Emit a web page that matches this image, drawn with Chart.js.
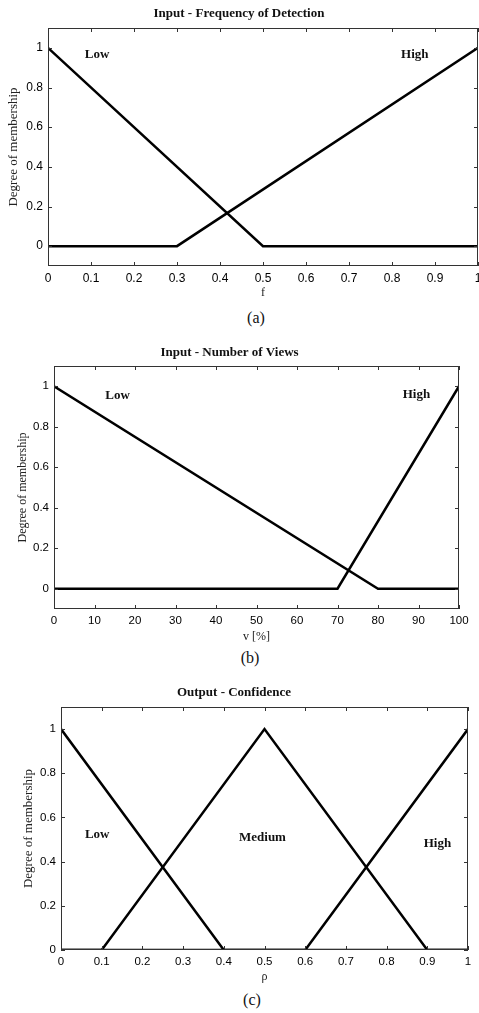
<!DOCTYPE html>
<html>
<head>
<meta charset="utf-8">
<script src="https://cdn.jsdelivr.net/npm/chart.js@4.4.1/dist/chart.umd.min.js"></script>
<style>
  body { margin: 0; background: #fff; width: 479px; height: 1013px; overflow: hidden; position: relative; }
  .box { position: absolute; left: 0; width: 479px; }
  .cap { position: absolute; font-family: "Liberation Serif", serif; font-size: 16px; transform: translate(-50%, -50%); color: #111; }
</style>
</head>
<body>
<div class="box" style="top:0;height:300px"><canvas id="chartA"></canvas></div>
<div class="cap" style="left:256px;top:318px">(a)</div>
<div class="box" style="top:330px;height:314px"><canvas id="chartB"></canvas></div>
<div class="cap" style="left:250px;top:658px">(b)</div>
<div class="box" style="top:670px;height:314px"><canvas id="chartC"></canvas></div>
<div class="cap" style="left:252px;top:1000px">(c)</div>
<script>
"use strict";

// (a) Input - Frequency of Detection
const freqLowX = [0, 0.5, 1];
const freqLowY = [1, 0, 0];
const freqHighX = [0, 0.3, 1];
const freqHighY = [0, 0, 1];
const freqTicksX = [0, 0.1, 0.2, 0.3, 0.4, 0.5, 0.6, 0.7, 0.8, 0.9, 1];

// (b) Input - Number of Views
const viewLowX = [0, 80, 100];
const viewLowY = [1, 0, 0];
const viewHighX = [0, 70, 100];
const viewHighY = [0, 0, 1];
const viewTicksX = [0, 10, 20, 30, 40, 50, 60, 70, 80, 90, 100];

// (c) Output - Confidence
const confLowX = [0, 0.4, 1];
const confLowY = [1, 0, 0];
const confMedX = [0, 0.1, 0.5, 0.9, 1];
const confMedY = [0, 0, 1, 0, 0];
const confHighX = [0, 0.6, 1];
const confHighY = [0, 0, 1];
const confTicksX = [0, 0.1, 0.2, 0.3, 0.4, 0.5, 0.6, 0.7, 0.8, 0.9, 1];

const membershipTicks = [0, 0.2, 0.4, 0.6, 0.8, 1];

function pts(xs, ys) {
    return xs.map(function (x, i) { return { x: x, y: ys[i] }; });
}

// matlab style box with inward ticks + the set labels
const matlabBox = {
    id: 'matlabBox',
    afterDraw: function (chart) {
        const ctx = chart.ctx;
        const a = chart.chartArea;
        const xs = chart.scales.x, ys = chart.scales.y;
        const len = 4;
        ctx.save();
        ctx.strokeStyle = '#333';
        ctx.lineWidth = 1;
        ctx.strokeRect(Math.round(a.left) + 0.5, Math.round(a.top) + 0.5,
            Math.round(a.right - a.left) - 1, Math.round(a.bottom - a.top) - 1);
        ctx.beginPath();
        xs.ticks.forEach(function (t) {
            const px = Math.round(xs.getPixelForValue(t.value)) + 0.5;
            ctx.moveTo(px, a.bottom); ctx.lineTo(px, a.bottom - len);
            ctx.moveTo(px, a.top); ctx.lineTo(px, a.top + len);
        });
        ys.ticks.forEach(function (t) {
            const py = Math.round(ys.getPixelForValue(t.value)) + 0.5;
            ctx.moveTo(a.left, py); ctx.lineTo(a.left + len, py);
            ctx.moveTo(a.right, py); ctx.lineTo(a.right - len, py);
        });
        ctx.stroke();

        const labels = chart.options.plugins.matlabBox.labels || [];
        ctx.fillStyle = '#111';
        ctx.font = 'bold 13px "Liberation Serif", serif';
        ctx.textAlign = 'center';
        ctx.textBaseline = 'middle';
        labels.forEach(function (l) {
            ctx.fillText(l.text, xs.getPixelForValue(l.x), ys.getPixelForValue(l.y));
        });
        ctx.restore();
    }
};

function makeChart(id, cfg) {
    const datasets = cfg.series.map(function (s) {
        return {
            data: s,
            showLine: true,
            borderColor: '#000',
            borderWidth: 2.5,
            pointRadius: 0,
            tension: 0,
            fill: false
        };
    });
    const tickFont = { family: '"Liberation Sans", Arial, sans-serif', size: cfg.tickSize };
    return new Chart(document.getElementById(id), {
        type: 'scatter',
        data: { datasets: datasets },
        plugins: [matlabBox],
        options: {
            responsive: true,
            maintainAspectRatio: false,
            animation: false,
            layout: { padding: { left: 0, right: cfg.padRight, top: 0, bottom: 0 } },
            plugins: {
                legend: { display: false },
                tooltip: { enabled: false },
                title: {
                    display: true,
                    text: cfg.title,
                    color: '#111',
                    font: { family: '"Liberation Serif", serif', size: 13, weight: 'bold', lineHeight: 1.2 },
                    padding: { top: cfg.titleTop, bottom: cfg.titleBottom }
                },
                matlabBox: { labels: cfg.labels }
            },
            scales: {
                x: {
                    type: 'linear',
                    min: cfg.xMin,
                    max: cfg.xMax,
                    grid: { display: false, drawTicks: false },
                    border: { display: false },
                    afterBuildTicks: function (s) { s.ticks = cfg.xTicks.map(function (v) { return { value: v }; }); },
                    afterFit: function (s) {
                        s.height = cfg.xHeight;
                        s.paddingLeft = 0;
                        s.paddingRight = 0;
                    },
                    ticks: {
                        padding: 5,
                        color: '#000',
                        maxRotation: 0,
                        font: tickFont,
                        callback: function (v) { return String(Math.round(v * 10) / 10); }
                    },
                    title: {
                        display: true,
                        text: cfg.xTitle,
                        color: '#222',
                        font: { family: '"Liberation Serif", serif', size: 12, lineHeight: 1.2 },
                        padding: { top: 0, bottom: 0 }
                    }
                },
                y: {
                    type: 'linear',
                    min: cfg.yMin,
                    max: 1.1,
                    grid: { display: false, drawTicks: false },
                    border: { display: false },
                    afterBuildTicks: function (s) { s.ticks = membershipTicks.map(function (v) { return { value: v }; }); },
                    afterFit: function (s) {
                        s.width = cfg.yWidth;
                        s.paddingTop = 0;
                        s.paddingBottom = 0;
                    },
                    ticks: {
                        padding: 5,
                        color: '#000',
                        font: tickFont,
                        callback: function (v) { return String(Math.round(v * 10) / 10); }
                    },
                    title: {
                        display: true,
                        text: 'Degree of membership',
                        color: '#222',
                        font: { family: '"Liberation Serif", serif', size: cfg.yTitleSize, lineHeight: 1.2 },
                        padding: { top: cfg.yTitlePad, bottom: 0 }
                    }
                }
            }
        }
    });
}

makeChart('chartA', {
    title: 'Input - Frequency of Detection',
    series: [pts(freqLowX, freqLowY), pts(freqHighX, freqHighY)],
    labels: [{ text: 'Low', x: 0.114, y: 0.965 }, { text: 'High', x: 0.853, y: 0.965 }],
    xTicks: freqTicksX, xMin: 0, xMax: 1, yMin: -0.1, xTitle: 'f', tickSize: 12, yTitleSize: 13,
    titleTop: 6, titleBottom: 6.4, xHeight: 34, yWidth: 48, padRight: 1, yTitlePad: 6
});

makeChart('chartB', {
    title: 'Input - Number of Views',
    series: [pts(viewLowX, viewLowY), pts(viewHighX, viewHighY)],
    labels: [{ text: 'Low', x: 15.7, y: 0.953 }, { text: 'High', x: 89.5, y: 0.958 }],
    xTicks: viewTicksX, xMin: 0, xMax: 100, yMin: -0.1, xTitle: 'v [%]', tickSize: 11.5, yTitleSize: 12,
    titleTop: 15.2, titleBottom: 5.2, xHeight: 35, yWidth: 54, padRight: 20, yTitlePad: 16
});

makeChart('chartC', {
    title: 'Output - Confidence',
    series: [pts(confLowX, confLowY), pts(confMedX, confMedY), pts(confHighX, confHighY)],
    labels: [{ text: 'Low', x: 0.089, y: 0.52 }, { text: 'Medium', x: 0.495, y: 0.508 }, { text: 'High', x: 0.925, y: 0.483 }],
    xTicks: confTicksX, xMin: 0, xMax: 1, yMin: 0, xTitle: 'ρ', tickSize: 11.5, yTitleSize: 13,
    titleTop: 15.2, titleBottom: 6.2, xHeight: 34, yWidth: 61, padRight: 11, yTitlePad: 21
});
</script>
</body>
</html>
